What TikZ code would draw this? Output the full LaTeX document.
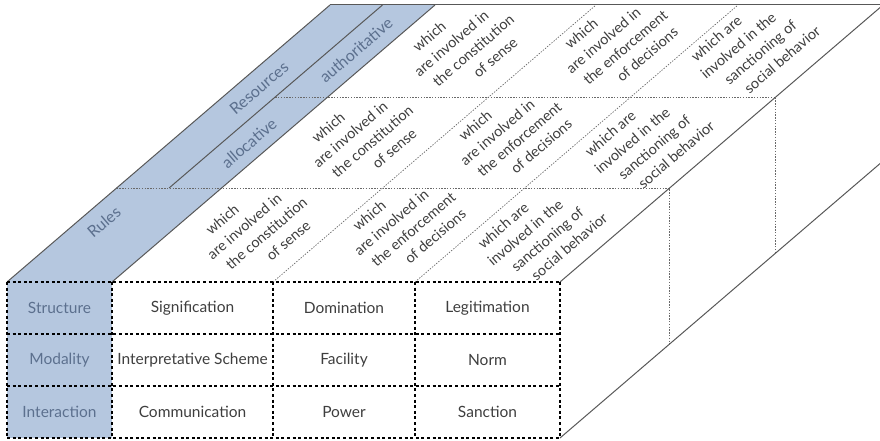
\documentclass[tikz,border=0pt]{standalone}
\usepackage{fontspec}
\setmainfont{Lato}
\usetikzlibrary{calc}
\definecolor{bandblue}{RGB}{181,199,223}
\definecolor{bandtext}{RGB}{92,112,142}
\definecolor{inkgray}{RGB}{62,62,62}
\definecolor{edgegray}{RGB}{88,88,88}
\definecolor{dotgray}{RGB}{105,105,105}
\def\k{1.1661}
\begin{document}
\begin{tikzpicture}[x=1pt,y=-1pt,
  solidedge/.style={draw=edgegray,line width=1pt},
  frontgrid/.style={draw=black,line width=1.5pt,dash pattern=on 3pt off 2.6pt},
  facegrid/.style={draw=dotgray,line width=0.7pt,dash pattern=on 1.4pt off 1.4pt},
  celltext/.style={text=inkgray,font=\fontsize{15.5}{17}\selectfont},
  labeltext/.style={text=bandtext,font=\fontsize{15.5}{17}\selectfont},
  slantline/.style={text=inkgray,rotate=40.6,inner sep=0pt,text height=0.72em,text depth=0.22em,font=\fontsize{14.5}{17}\selectfont},
  bandlabel/.style={text=bandtext,rotate=40.6,inner sep=0pt,font=\fontsize{16}{18}\selectfont}]
\useasboundingbox (0,0) rectangle (880,441);
\clip (0,0) rectangle (880,441);

% front face corners
\coordinate (fTL) at (7,282);
\coordinate (fTB) at (112,282);
\coordinate (fTR) at (560,282);
\coordinate (fBR) at (560,438);
% back ends of the slanted edges
\coordinate (bTL) at ({7+277*\k},5);
\coordinate (bTB) at ({112+277*\k},5);
\coordinate (bTR) at ({560+277*\k},5);
\coordinate (bBR) at ({560+300*\k},138);
% divider inside the resources band
\coordinate (mid1) at (169.1,188);
\coordinate (mid2) at ({169.1+183*\k},5);

% blue label band
\fill[bandblue] (7,282) rectangle (112,438);
\fill[bandblue] (fTL) -- (fTB) -- (bTB) -- (bTL) -- cycle;

% dotted layer lines on the top and right faces
\draw[facegrid] ({7+94*\k},188) -- ({560+94*\k},188) -- ({560+94*\k},{438-94});
\draw[facegrid] ({169.1+91*\k},97) -- ({560+185*\k},97) -- ({560+185*\k},{438-185});
% dotted column lines on the top face
\draw[facegrid] (273,282) -- ({273+277*\k},5);
\draw[facegrid] (415,282) -- ({415+277*\k},5);

% solid edges
\draw[solidedge] (fTL) -- (bTL);
\draw[solidedge] (fTB) -- (bTB);
\draw[solidedge] (mid1) -- (mid2);
\draw[solidedge] (bTL) -- (900,5);
\draw[solidedge] (fTR) -- (bTR);
\draw[solidedge] (fBR) -- (bBR);

% front grid
\foreach \yy in {282,334,386,438} \draw[frontgrid] (7,\yy) -- (560,\yy);
\foreach \xx in {7,112,273,415,560} \draw[frontgrid] (\xx,282) -- (\xx,438);

% front face labels
\node[labeltext] (structure) at (59.5,308) {Structure};
\node[labeltext] (modality) at (59.5,360) {Modality};
\node[labeltext] (interaction) at (59.5,412) {Interaction};
\node[celltext] (signification) at (192.5,308) {Signification};
\node[celltext] (domination) at (344,308) {Domination};
\node[celltext] (legitimation) at (487.5,308) {Legitimation};
\node[celltext] (scheme) at (192.5,360) {Interpretative Scheme};
\node[celltext] (facility) at (344,360) {Facility};
\node[celltext] (norm) at (487.5,360) {Norm};
\node[celltext] (communication) at (192.5,412) {Communication};
\node[celltext] (power) at (344,412) {Power};
\node[celltext] (sanction) at (487.5,412) {Sanction};

% band labels
\node[bandlabel] (rules) at (104,222) {Rules};
\node[bandlabel] (resources) at (259,88) {Resources};
\node[bandlabel] (allocative) at (249,143) {allocative};
\node[bandlabel] (authoritative) at (356,50) {authoritative};

% top face cells: each line of a cell is set along the slant,
% successive lines stepping to the right across the face
\foreach \cx/\cy/\nm in {257/232/a, 363/140/b, 464/49/c}
  \foreach \ln [count=\i from 0] in {which, are involved in, the constitution, of sense}
    \node[slantline] (sense\nm\i) at ({\cx+(\i-1.5)*22},{\cy+(\i-1.5)*7}) {\ln};
\foreach \cx/\cy/\nm in {404/228/a, 510/138/b, 616/46/c}
  \foreach \ln [count=\i from 0] in {which, are involved in, the enforcement, of decisions}
    \node[slantline] (decide\nm\i) at ({\cx+(\i-1.5)*22},{\cy+(\i-1.5)*7}) {\ln};
\foreach \cx/\cy/\nm in {538/238/a, 645/146/b, 751/51/c}
  \foreach \ln [count=\i from 0] in {which are, involved in the, sanctioning of, social behavior}
    \node[slantline] (sanction\nm\i) at ({\cx+(\i-1.5)*22},{\cy+(\i-1.5)*7}) {\ln};
\end{tikzpicture}
\end{document}
